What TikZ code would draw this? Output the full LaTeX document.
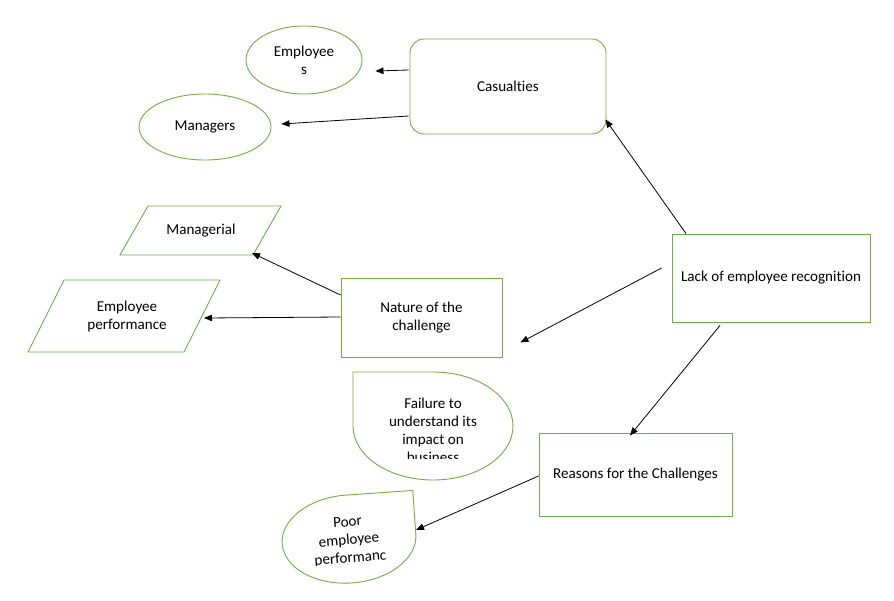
\documentclass[tikz,border=0pt]{standalone}
\usepackage{fontspec}
\setmainfont{Carlito}[Ligatures={NoCommon}]
\usetikzlibrary{shapes.geometric,arrows.meta,calc}
\definecolor{grn}{RGB}{112,173,71}
\begin{document}
\begin{tikzpicture}[x=1pt,y=-1pt,
  every node/.style={font=\fontsize{15.1}{18}\selectfont, text=black, inner sep=0pt},
  gline/.style={draw=grn, line width=0.9pt},
  ell/.style={gline, ellipse},
  box/.style={gline, rectangle},
  txt/.style={align=center},
  arr/.style={draw=black, line width=0.8pt, -{Triangle[length=8pt,width=6.5pt]}}
]
\useasboundingbox[fill=white] (0,0) rectangle (894,600);

% Casualties branch
\node[box, rounded corners=14pt, minimum width=196pt, minimum height=95pt] (cas) at (508,86.5) {Casualties};
\node[ell, minimum width=116pt, minimum height=68pt, txt] (emp) at (304,60) {Employee\\s};
\node[ell, minimum width=132pt, minimum height=66pt] (mgr) at (205,127) {Managers};

% Nature branch
\node[box, minimum width=161pt, minimum height=79pt, txt] (nat) at (421.5,317.5) {Nature of the\\challenge};
\draw[gline] (148,206) -- (281,206) -- (253,255) -- (120,255) -- cycle;
\node[txt] (mgl) at (201,231) {Managerial};
\draw[gline] (64,280) -- (220,280) -- (184,352) -- (28,352) -- cycle;
\node[txt] (ep) at (127,316) {Employee\\performance};

% Lack
\node[box, minimum width=198pt, minimum height=88pt] (lack) at (771,278) {Lack of employee recognition};

% Reasons
\node[box, minimum width=193pt, minimum height=83pt] (rea) at (635.5,474.5) {Reasons for the Challenges};

% Failure teardrop
\draw[gline] (353,426) -- (353,372) -- (433,372) arc(270:540:80 and 54) -- cycle;
\begin{scope}
  \clip (340,365) rectangle (530,458);
  \node[txt] (fail) at (433,430) {Failure to\\understand its\\impact on\\business};
\end{scope}

% Poor teardrop
\begin{scope}[rotate around={4:(349,539)}]
  \draw[gline] (416,539) arc(0:270:67 and 44) -- (416,495) -- cycle;
\end{scope}
\begin{scope}
  \clip (270,480) rectangle (430,565);
  \node[txt, rotate=4.5] (poor) at (349,541) {Poor\\employee\\performanc};
\end{scope}

% Connectors
\draw[arr] ($(cas.west)+(-1,-16.5)$) -- ($(emp.east)+(13,11)$);
\draw[arr] ($(cas.west)+(-1,29.5)$) -- ($(mgr.east)+(10,-3)$);
\draw[arr] ($(lack.north)+(-85,0)$) -- ($(cas.east)+(-1,33)$);
\draw[arr] ($(nat.west)+(0,-22.5)$) -- ($(mgl.center)+(51,22)$);
\draw[arr] ($(nat.west)+(0,-0.5)$) -- ($(ep.center)+(77,2)$);
\draw[arr] ($(lack.west)+(-10,-10)$) -- ($(nat.south east)+(18,-15)$);
\draw[arr] ($(lack.south)+(-51,3)$) -- ($(rea.north)+(-5.5,3)$);
\draw[arr] ($(rea.west)+(0,1.5)$) -- (416,530);
\end{tikzpicture}
\end{document}
